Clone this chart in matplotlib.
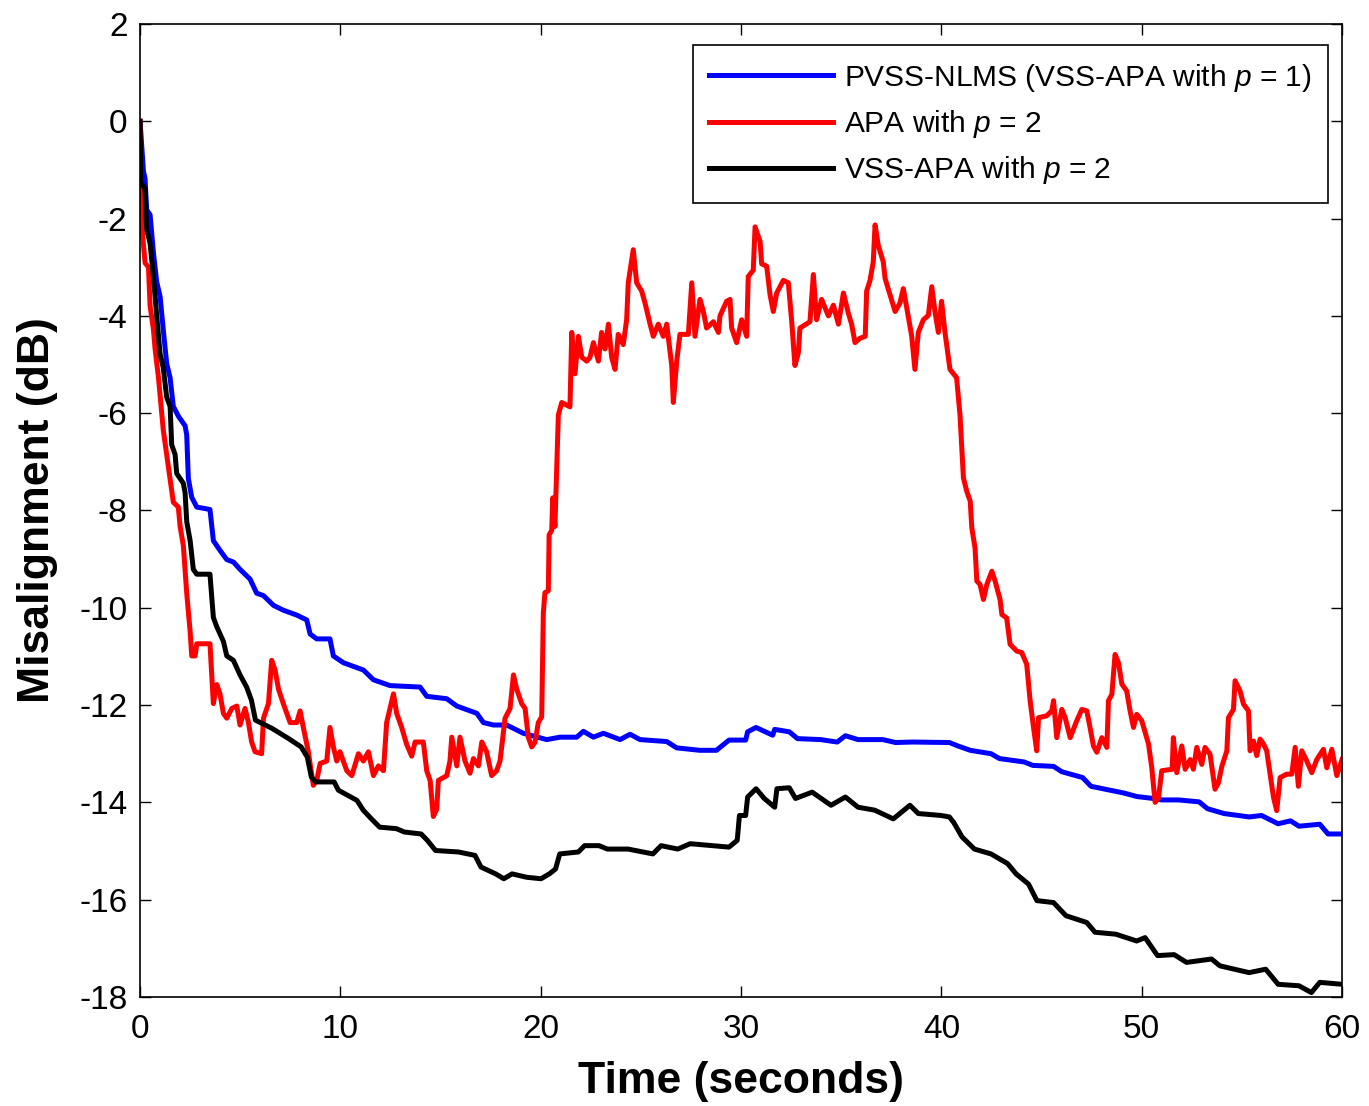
import matplotlib
matplotlib.use("Agg")
import matplotlib.pyplot as plt

# Misalignment curves: (time in s, misalignment in dB)
pvss_nlms = [
    (0, 0), (0.17, -1.03), (0.25, -1.18), (0.33, -1.82), (0.5, -1.92), (0.67, -2.71),
    (0.83, -3.30), (1.0, -3.6), (1.16, -4.29), (1.33, -4.98), (1.5, -5.27), (1.66, -5.86),
    (1.91, -6.06), (2.25, -6.26), (2.33, -6.45), (2.41, -7.34), (2.58, -7.73), (2.83, -7.93),
    (3.49, -7.98), (3.66, -8.62), (3.99, -8.82), (4.33, -9.01), (4.66, -9.06), (4.99, -9.21),
    (5.49, -9.41), (5.82, -9.70), (6.16, -9.75), (6.66, -9.95), (7.15, -10.05), (7.82, -10.15),
    (8.32, -10.25), (8.49, -10.54), (8.82, -10.64), (9.48, -10.64), (9.65, -10.99), (10.15, -11.13),
    (11.15, -11.28), (11.65, -11.48), (12.48, -11.60), (13.98, -11.63), (14.31, -11.82),
    (15.31, -11.87), (15.81, -12.02), (16.81, -12.17), (17.14, -12.36), (17.64, -12.41),
    (18.30, -12.41), (19.13, -12.58), (20.30, -12.71), (20.96, -12.66), (21.80, -12.66),
    (22.13, -12.54), (22.63, -12.66), (23.13, -12.58), (23.96, -12.71), (24.46, -12.60),
    (24.96, -12.71), (26.29, -12.75), (26.79, -12.88), (27.94, -12.93), (28.77, -12.93),
    (29.40, -12.72), (30.23, -12.72), (30.33, -12.55), (30.75, -12.46), (31.58, -12.62),
    (31.68, -12.50), (32.41, -12.55), (32.82, -12.69), (33.97, -12.71), (34.80, -12.76),
    (35.21, -12.63), (35.84, -12.71), (37.08, -12.71), (37.71, -12.77), (38.54, -12.76),
    (40.40, -12.77), (40.82, -12.84), (41.44, -12.93), (42.48, -13.00), (42.90, -13.10),
    (44.14, -13.17), (44.56, -13.24), (45.60, -13.26), (46.01, -13.37), (47.05, -13.49),
    (47.47, -13.67), (48.30, -13.74), (49.13, -13.81), (49.75, -13.88), (50.58, -13.92),
    (51.00, -13.95), (51.83, -13.95), (52.87, -13.99), (53.28, -14.13), (54.11, -14.23),
    (55.36, -14.30), (55.98, -14.27), (56.81, -14.44), (57.43, -14.38), (57.85, -14.49),
    (58.89, -14.45), (59.30, -14.65), (60.0, -14.65),
]

apa = [
    (0, 0), (0.05, -1.43), (0.08, -2.12), (0.25, -2.91), (0.42, -3.0), (0.5, -3.79),
    (0.67, -4.29), (0.75, -4.68), (0.92, -5.27), (1.16, -6.35), (1.33, -6.85), (1.5, -7.34),
    (1.66, -7.83), (1.91, -7.93), (2.0, -8.33), (2.16, -8.72), (2.33, -9.70), (2.5, -10.49),
    (2.58, -10.99), (2.75, -10.99), (2.83, -10.74), (3.49, -10.74), (3.58, -11.38),
    (3.66, -11.97), (3.83, -11.58), (3.99, -11.77), (4.16, -12.17), (4.33, -12.27),
    (4.58, -12.07), (4.83, -12.02), (4.99, -12.41), (5.24, -12.07), (5.41, -12.36),
    (5.57, -12.76), (5.74, -12.96), (6.07, -13.00), (6.16, -12.27), (6.41, -11.97),
    (6.57, -11.08), (6.74, -11.28), (6.91, -11.67), (7.15, -11.97), (7.49, -12.36),
    (7.82, -12.36), (7.99, -12.12), (8.15, -12.46), (8.40, -12.96), (8.65, -13.65),
    (8.82, -13.55), (8.99, -13.20), (9.32, -13.15), (9.48, -12.46), (9.65, -12.86),
    (9.82, -13.15), (9.98, -12.96), (10.32, -13.35), (10.57, -13.45), (10.9, -13.0),
    (11.15, -13.15), (11.4, -12.96), (11.65, -13.45), (11.9, -13.25), (12.15, -13.35),
    (12.31, -12.36), (12.65, -11.77), (12.81, -12.17), (13.06, -12.46), (13.31, -12.81),
    (13.56, -13.05), (13.73, -12.76), (14.14, -12.76), (14.31, -13.35), (14.48, -13.55),
    (14.64, -14.29), (14.81, -14.14), (14.89, -13.55), (15.31, -13.45), (15.47, -13.15),
    (15.56, -12.66), (15.81, -13.25), (15.97, -12.66), (16.22, -13.15), (16.47, -13.40),
    (16.64, -13.10), (16.89, -13.25), (17.06, -12.76), (17.30, -12.96), (17.55, -13.45),
    (17.80, -13.35), (17.97, -13.15), (18.22, -12.27), (18.47, -12.07), (18.64, -11.38),
    (18.80, -11.67), (19.05, -11.97), (19.22, -12.07), (19.38, -12.66), (19.55, -12.86),
    (19.72, -12.76), (19.88, -12.36), (20.05, -12.24), (20.13, -10.11), (20.21, -9.69),
    (20.38, -9.65), (20.42, -8.5), (20.55, -8.41), (20.60, -7.74), (20.71, -8.33),
    (20.80, -7.14), (20.88, -6.04), (21.05, -5.78), (21.46, -5.87), (21.55, -4.34),
    (21.71, -5.19), (21.88, -4.42), (22.05, -4.85), (22.30, -4.93), (22.46, -4.85),
    (22.63, -4.55), (22.88, -4.93), (23.04, -4.34), (23.21, -4.68), (23.38, -4.17),
    (23.54, -4.85), (23.71, -5.1), (23.87, -4.38), (24.12, -4.59), (24.29, -4.08),
    (24.37, -3.32), (24.62, -2.64), (24.79, -3.32), (25.04, -3.49), (25.21, -3.74),
    (25.46, -4.17), (25.62, -4.42), (25.87, -4.17), (26.12, -4.42), (26.29, -4.17),
    (26.54, -5.02), (26.62, -5.78), (26.79, -4.93), (26.95, -4.38), (27.37, -4.38),
    (27.54, -3.32), (27.70, -4.42), (27.95, -3.66), (28.12, -3.91), (28.28, -4.25),
    (28.62, -4.12), (28.87, -4.34), (28.95, -4.00), (29.28, -3.70), (29.45, -3.66),
    (29.53, -4.25), (29.78, -4.55), (30.03, -4.08), (30.28, -4.42), (30.36, -3.19),
    (30.61, -3.06), (30.70, -2.17), (30.95, -2.47), (31.03, -2.93), (31.28, -2.98),
    (31.45, -3.57), (31.61, -3.91), (31.78, -3.53), (32.11, -3.27), (32.36, -3.32),
    (32.53, -4.12), (32.69, -5.02), (32.86, -4.76), (32.94, -4.25), (33.44, -4.12),
    (33.61, -3.15), (33.77, -4.08), (34.02, -3.66), (34.36, -4.00), (34.61, -3.78),
    (34.86, -4.17), (35.11, -3.53), (35.36, -3.95), (35.52, -4.17), (35.69, -4.55),
    (35.94, -4.46), (36.20, -4.42), (36.27, -3.49), (36.44, -3.27), (36.60, -2.89),
    (36.69, -2.13), (36.85, -2.55), (37.10, -2.89), (37.19, -3.23), (37.44, -3.57),
    (37.69, -3.91), (37.93, -3.74), (38.10, -3.44), (38.27, -3.83), (38.52, -4.42),
    (38.68, -5.10), (38.85, -4.34), (39.10, -4.08), (39.35, -3.99), (39.52, -3.40),
    (39.68, -3.91), (39.85, -4.34), (40.01, -3.70), (40.18, -4.34), (40.43, -5.10),
    (40.76, -5.27), (40.93, -6.04), (41.10, -7.33), (41.27, -7.61), (41.44, -7.81),
    (41.52, -8.36), (41.68, -8.77), (41.77, -9.45), (41.93, -9.52), (42.10, -9.83),
    (42.27, -9.52), (42.52, -9.25), (42.68, -9.45), (42.93, -9.83), (43.02, -10.14),
    (43.26, -10.21), (43.43, -10.75), (43.76, -10.89), (44.01, -10.92), (44.26, -11.16),
    (44.43, -11.91), (44.60, -12.46), (44.76, -12.94), (44.85, -12.26), (45.26, -12.22),
    (45.51, -12.12), (45.60, -11.91), (45.76, -12.67), (46.01, -12.09), (46.18, -12.26),
    (46.43, -12.67), (46.76, -12.32), (47.01, -12.09), (47.26, -12.12), (47.42, -12.46),
    (47.59, -12.84), (47.76, -12.97), (48.01, -12.67), (48.26, -12.87), (48.34, -11.91),
    (48.51, -11.78), (48.67, -10.96), (48.84, -11.13), (49.01, -11.57), (49.25, -11.71),
    (49.42, -12.12), (49.59, -12.46), (49.75, -12.19), (50.00, -12.32), (50.34, -12.80),
    (50.50, -13.28), (50.67, -14.00), (50.84, -13.90), (51.00, -13.35), (51.52, -13.32),
    (51.58, -12.67), (51.75, -13.39), (52.00, -12.84), (52.17, -13.32), (52.42, -13.12),
    (52.58, -13.32), (52.75, -12.87), (53.00, -13.22), (53.16, -12.87), (53.41, -13.01),
    (53.66, -13.73), (53.83, -13.60), (54.00, -13.26), (54.25, -12.94), (54.33, -12.26),
    (54.58, -12.09), (54.66, -11.50), (54.91, -11.71), (55.08, -11.98), (55.33, -12.12),
    (55.41, -12.94), (55.58, -12.74), (55.74, -13.04), (55.91, -12.70), (56.08, -12.80),
    (56.24, -12.94), (56.41, -13.42), (56.58, -13.90), (56.74, -14.17), (56.91, -13.49),
    (57.24, -13.42), (57.49, -13.42), (57.66, -12.87), (57.82, -13.67), (57.99, -12.94),
    (58.24, -13.15), (58.49, -13.39), (58.74, -13.12), (59.07, -12.91), (59.24, -13.29),
    (59.49, -12.91), (59.74, -13.45), (60.0, -13.12),
]

vss_apa = [
    (0, 0), (0.05, -1.28), (0.25, -1.38), (0.33, -2.22), (0.5, -2.51), (0.67, -3.2),
    (0.83, -3.99), (1.0, -4.78), (1.16, -5.07), (1.33, -5.67), (1.5, -5.86), (1.58, -6.65),
    (1.75, -6.85), (1.83, -7.24), (2.16, -7.44), (2.25, -7.64), (2.33, -8.23), (2.5, -8.62),
    (2.66, -9.21), (2.83, -9.31), (3.49, -9.31), (3.66, -10.20), (3.83, -10.39),
    (4.16, -10.69), (4.33, -10.99), (4.66, -11.08), (4.99, -11.38), (5.32, -11.63),
    (5.56, -11.9), (5.76, -12.31), (6.59, -12.48), (7.42, -12.69), (8.04, -12.86),
    (8.35, -13.07), (8.55, -13.48), (8.76, -13.58), (9.69, -13.58), (9.90, -13.75),
    (10.83, -13.96), (11.14, -14.16), (11.55, -14.34), (11.96, -14.51), (12.79, -14.54),
    (13.20, -14.61), (14.03, -14.65), (14.34, -14.78), (14.75, -14.99), (15.89, -15.02),
    (16.72, -15.09), (17.02, -15.33), (17.75, -15.47), (18.16, -15.57), (18.57, -15.47),
    (19.30, -15.54), (20.02, -15.57), (20.43, -15.47), (20.74, -15.37), (20.95, -15.06),
    (21.88, -15.02), (22.19, -14.89), (22.91, -14.89), (23.33, -14.96), (24.36, -14.96),
    (25.60, -15.06), (26.01, -14.89), (26.84, -14.96), (27.46, -14.85), (29.40, -14.92),
    (29.81, -14.78), (29.92, -14.27), (30.23, -14.27), (30.33, -13.89), (30.75, -13.72),
    (31.16, -13.92), (31.68, -14.10), (31.79, -13.72), (32.41, -13.70), (32.72, -13.92),
    (33.55, -13.79), (34.49, -14.06), (35.21, -13.89), (35.84, -14.10), (36.67, -14.16),
    (37.60, -14.34), (38.43, -14.06), (38.85, -14.23), (39.99, -14.27), (40.40, -14.30),
    (40.61, -14.41), (41.03, -14.71), (41.65, -14.96), (42.48, -15.06), (43.31, -15.26),
    (43.73, -15.47), (44.35, -15.68), (44.77, -16.02), (45.60, -16.06), (46.22, -16.33),
    (47.26, -16.47), (47.67, -16.67), (48.71, -16.71), (49.75, -16.85), (50.17, -16.78),
    (50.79, -17.15), (51.62, -17.13), (52.24, -17.29), (53.49, -17.22), (53.90, -17.36),
    (55.36, -17.50), (56.19, -17.43), (56.81, -17.74), (57.85, -17.77), (58.47, -17.91),
    (58.89, -17.70), (60.0, -17.74),
]

legend_labels = [
    "PVSS-NLMS (VSS-APA with $p$ = 1)",
    "APA with $p$ = 2",
    "VSS-APA with $p$ = 2",
]
line_colors = ["#0000ff", "#ff0000", "#000000"]
x_ticks = [0, 10, 20, 30, 40, 50, 60]
y_ticks = [2, 0, -2, -4, -6, -8, -10, -12, -14, -16, -18]

# Arial-like look of the original MATLAB figure, plain hyphen as minus sign
plt.rcParams["font.family"] = ["Liberation Sans", "DejaVu Sans"]
plt.rcParams["mathtext.fontset"] = "custom"
plt.rcParams["mathtext.rm"] = "Liberation Sans"
plt.rcParams["mathtext.it"] = "Liberation Sans:italic"
plt.rcParams["axes.unicode_minus"] = False

fig = plt.figure(figsize=(13.69, 11.06), dpi=100)
ax = fig.add_axes([0.1023, 0.0986, 0.878, 0.8797])

for series, color, label in zip([pvss_nlms, apa, vss_apa], line_colors, legend_labels):
    t, db = zip(*series)
    ax.plot(t, db, color=color, linewidth=3.6, label=label)

ax.set_xlim(0, 60)
ax.set_ylim(-18, 2)
ax.set_xticks(x_ticks)
ax.set_yticks(y_ticks)
ax.tick_params(direction="in", length=8, width=1, top=True, right=True, labelsize=24)
ax.tick_params(axis="x", pad=12)
ax.tick_params(axis="y", pad=9)
for spine in ax.spines.values():
    spine.set_linewidth(1.2)

ax.set_xlabel("Time (seconds)", fontsize=32, fontweight="bold", labelpad=12)
ax.set_ylabel("Misalignment (dB)", fontsize=32, fontweight="bold", labelpad=15)

leg = ax.legend(loc="upper right", bbox_to_anchor=(0.988, 0.978), borderaxespad=0,
                fontsize=21.5, handlelength=4.15, handletextpad=0.35,
                labelspacing=0.48, borderpad=0.55, fancybox=False, framealpha=1)
leg.get_frame().set_edgecolor("black")
leg.get_frame().set_linewidth(1.2)

fig.savefig("out.png", dpi=100)
